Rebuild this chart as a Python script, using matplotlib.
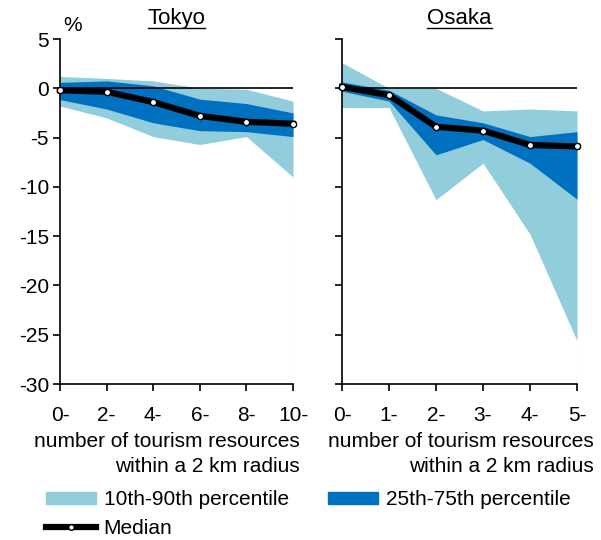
import matplotlib
matplotlib.use('Agg')
import matplotlib.pyplot as plt
from matplotlib.patches import Patch
from matplotlib.lines import Line2D
import numpy as np

plt.rcParams['font.family'] = ['Liberation Sans', 'DejaVu Sans']
plt.rcParams['font.size'] = 15
plt.rcParams['axes.unicode_minus'] = False

# Tokyo
tokyo_labels = ['0-', '2-', '4-', '6-', '8-', '10-']
tokyo_p10 = [-1.8, -3.0, -4.9, -5.7, -4.9, -9.0]
tokyo_p25 = [-1.15, -2.1, -3.5, -4.3, -4.4, -4.9]
tokyo_median = [-0.2, -0.35, -1.4, -2.8, -3.4, -3.6]
tokyo_p75 = [0.6, 0.75, 0.25, -1.1, -1.55, -2.5]
tokyo_p90 = [1.2, 1.0, 0.75, 0.0, -0.1, -1.3]

# Osaka
osaka_labels = ['0-', '1-', '2-', '3-', '4-', '5-']
osaka_p10 = [-1.95, -1.95, -11.3, -7.6, -14.8, -25.6]
osaka_p25 = [-0.3, -1.3, -6.75, -5.2, -7.6, -11.25]
osaka_median = [0.15, -0.7, -3.9, -4.3, -5.75, -5.9]
osaka_p75 = [0.65, -0.2, -2.7, -3.5, -4.9, -4.4]
osaka_p90 = [2.6, 0.0, 0.0, -2.3, -2.1, -2.3]

light = '#92CDDC'
dark = '#0070C0'

fig = plt.figure(figsize=(6.01, 5.40), dpi=100)
ax1 = fig.add_axes([60/601, 156/540, 233/601, 345/540])
ax2 = fig.add_axes([342/601, 156/540, 235/601, 345/540])

panels = [
    (ax1, 'Tokyo', tokyo_labels, tokyo_p10, tokyo_p25, tokyo_median, tokyo_p75, tokyo_p90, 1.03),
    (ax2, 'Osaka', osaka_labels, osaka_p10, osaka_p25, osaka_median, osaka_p75, osaka_p90, 1.072),
]

titles = []
for ax, name, labels, p10, p25, med, p75, p90, xl in panels:
    x = np.arange(len(labels))
    ax.fill_between(x, p10, p90, color=light, lw=0)
    ax.fill_between(x, p25, p75, color=dark, lw=0)
    # thin sliver at the right edge left by the area fill
    ax.plot([x[-1], x[-1]], [-30, p10[-1]], color=light, lw=0.8)
    ax.axhline(0, color='black', lw=1.2, zorder=3)
    ax.plot(x, med, color='black', lw=4.5, marker='o', markersize=4.5,
            markerfacecolor='white', markeredgecolor='black', markeredgewidth=1.0,
            zorder=4, clip_on=False)
    ax.set_xlim(0, len(labels) - 1)
    ax.set_ylim(-30, 5)
    ax.set_yticks(np.arange(-30, 6, 5))
    ax.set_xticks(x)
    ax.set_xticklabels(labels)
    for s in ['top', 'right']:
        ax.spines[s].set_visible(False)
    for s in ['left', 'bottom']:
        ax.spines[s].set_linewidth(1.2)
    ax.tick_params(direction='out', length=5, width=1.2, pad=11)
    ax.text(xl, -0.138, 'number of tourism resources\nwithin a 2 km radius',
            transform=ax.transAxes, ha='right', va='top', multialignment='right',
            linespacing=1.4)
    t = ax.text(0.5, 1.058, name, transform=ax.transAxes, ha='center', va='center',
                fontsize=16)
    titles.append(t)

ax2.set_yticklabels([])
ax1.tick_params(axis='y', pad=3)
ax1.text(0.015, 1.04, '%', transform=ax1.transAxes, ha='left', va='center')

# underline titles
fig.canvas.draw()
r = fig.canvas.get_renderer()
for t in titles:
    bb = t.get_window_extent(r)
    fig.add_artist(Line2D([bb.x0 / 601, bb.x1 / 601], [(bb.y0 + 1) / 540] * 2,
                          color='black', lw=1.0))

handles = [Patch(color=light, label='10th-90th percentile'),
           Line2D([], [], color='black', lw=4.5, marker='o', markersize=4,
                  markerfacecolor='white', markeredgecolor='black', label='Median'),
           Patch(color=dark, label='25th-75th percentile')]
fig.legend(handles=handles, ncol=2, loc='upper left', bbox_to_anchor=(36/601, 1 - 480/540),
           frameon=False, borderpad=0, handlelength=2.4, handleheight=0.55,
           handletextpad=0.35, columnspacing=1.9, labelspacing=0.45)

fig.savefig('out.png', dpi=100)
